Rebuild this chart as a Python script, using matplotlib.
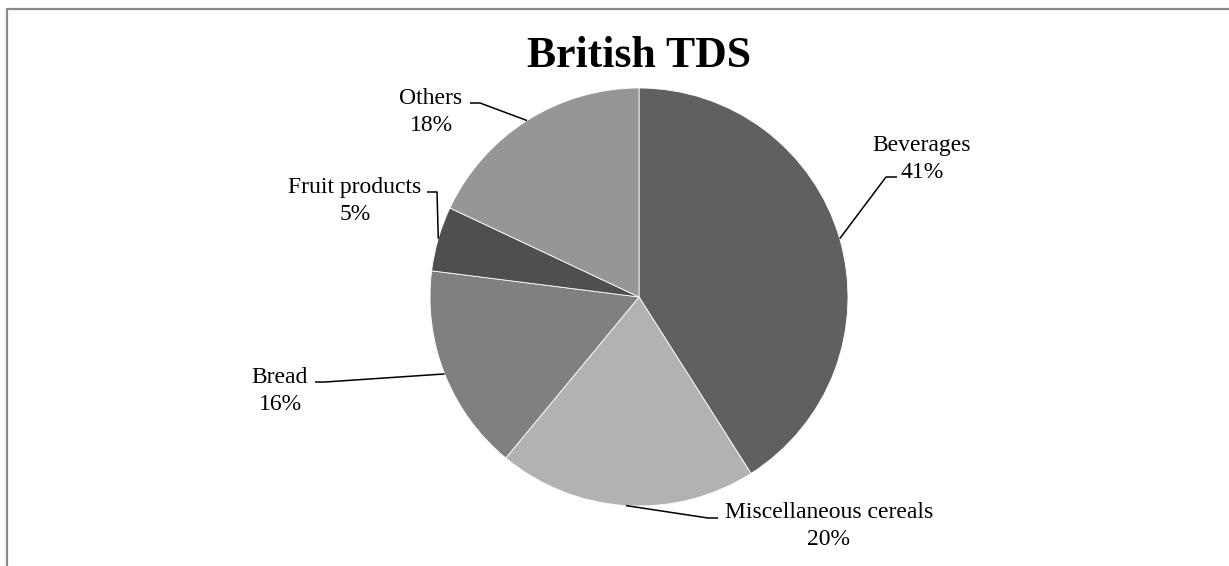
import numpy as np
import matplotlib.pyplot as plt

categories = ['Beverages', 'Miscellaneous cereals', 'Bread', 'Fruit products', 'Others']
shares = [41, 20, 16, 5, 18]
colors = ['#606060', '#b2b2b2', '#808080', '#4f4f4f', '#969696']

W, H = 1229, 566
fig = plt.figure(figsize=(W / 100, H / 100), dpi=100)
ax = fig.add_axes([0, 0, 1, 1])

cx, cy, r = 639, H - 297, 209
wedges, _ = ax.pie(shares, colors=colors, startangle=90, counterclock=False,
                   center=(cx, cy), radius=r, frame=True,
                   wedgeprops=dict(edgecolor='white', linewidth=0.6))
ax.set_xlim(0, W)
ax.set_ylim(0, H)
ax.set_aspect('equal')
ax.axis('off')

# label layout (pixel coords from top): text centre, elbow, end of leader
layout = {
    'Beverages': ((922, 159), (886, 177), (897, 177)),
    'Miscellaneous cereals': ((829, 526), (708, 518), (718, 518)),
    'Bread': ((280, 391), (325, 382), (315, 382)),
    'Fruit products': ((355, 201), (437, 192), (427, 192)),
    'Others': ((431, 112), (480, 103), (470, 103)),
}

for w, name, val in zip(wedges, categories, shares):
    ang = np.deg2rad((w.theta1 + w.theta2) / 2)
    px, py = cx + r * np.cos(ang), cy + r * np.sin(ang)
    (tx, ty), (ex, ey), (lx, ly) = layout[name]
    ax.plot([px, ex, lx], [py, H - ey, H - ly], color='black', lw=1.1,
            solid_capstyle='butt')
    ax.text(tx, H - ty, f'{name}\n{val}%', ha='center', va='center',
            fontsize=17, family='Liberation Serif', linespacing=1.35)

ax.text(639, H - 56, 'British TDS', ha='center', va='center', fontsize=31.5,
        fontweight='bold', family='Liberation Serif')

# chart frame (only top and left edges visible)
ax.plot([7, 7, W + 5], [-5, H - 9, H - 9], color='#8a8a8a', lw=1.6)

fig.savefig('out.png', dpi=100)
